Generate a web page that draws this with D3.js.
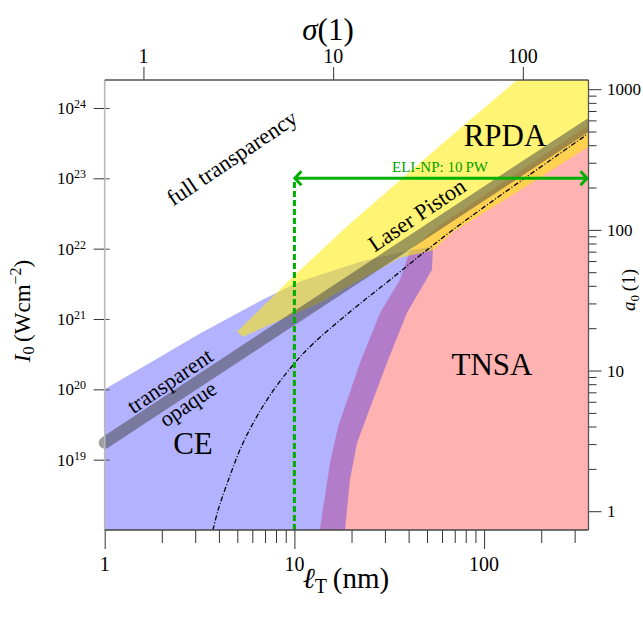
<!DOCTYPE html>
<html>
<head>
<meta charset="utf-8">
<script src="https://cdn.jsdelivr.net/npm/d3@7"></script>
<style>
  body { margin: 0; background: #fff; }
  text { font-family: "Liberation Serif", "DejaVu Serif", serif; }
</style>
</head>
<body>
<script>
// region outlines: [target thickness nm, intensity W/cm^2]
const ceRegion = [
  [1, 1.0e20], [3.18, 6.2e20], [6.83, 1.9e21], [10.7, 3.4e21], [22.2, 6.5e21],
  [40.7, 9.5e21], [53.8, 1.07e22], [53.1, 5.0e21], [39.2, 1.23e21], [30.8, 2.4e20],
  [24.1, 4.1e19], [21.4, 1.74e19], [19.6, 5.1e18], [18.5, 1e18], [1, 1e18]
];
const tnsaRegion = [
  [13.6, 1e18], [15.4, 8.9e18], [17.0, 2.95e19], [22.2, 2.4e20], [28.3, 1.23e21],
  [36.0, 3.6e21], [40.7, 9.5e21], [58.6, 2.19e22], [355, 5.75e23], [355, 1e18]
];
const rpdaRegion = [
  [4.98, 6.6e20], [9.83, 4.0e21], [19.4, 2.2e22], [63.8, 3.55e23], [149, 2.5e24],
  [355, 2.5e24], [355, 2.8e23], [137, 5.5e22], [68.6, 1.74e22], [53.8, 9.5e21],
  [36.0, 7.4e21], [13.6, 1.7e21], [5.36, 5.6e20]
];
// transparent / opaque boundary
const transLine = [[1, 1.74e19], [355, 5.75e23]];
// dash-dot curve
const dashCurve = [
  [3.72, 1e18], [3.96, 1.92e18], [4.41, 4.5e18], [5.36, 1.73e19], [7.17, 7.1e19],
  [9.83, 2.22e20], [12.5, 4.42e20], [19.6, 1.26e21], [31.9, 3.6e21], [68.6, 1.86e22],
  [349, 4.2e23]
];
// ELI-NP 10 PW marker
const eliThickness = 10;
const eliIntensity = 1e23;

const xMajor = [1, 10, 100];
const xMinor = [2, 3, 4, 5, 6, 7, 8, 9, 20, 30, 40, 50, 60, 70, 80, 90, 200, 300];
const yMajor = [1e19, 1e20, 1e21, 1e22, 1e23, 1e24];
const yExponents = [19, 20, 21, 22, 23, 24];
const sigmaMajor = [1, 10, 100];
const a0Major = [1, 10, 100, 1000];
const a0Minor = [2, 3, 4, 5, 6, 7, 8, 9, 20, 30, 40, 50, 60, 70, 80, 90,
  200, 300, 400, 500, 600, 700, 800, 900];

const W = 643, H = 619;
const pLeft = 104.7, pRight = 588.5, pTop = 80, pBottom = 530;

const svg = d3.select('body').append('svg')
  .attr('width', W)
  .attr('height', H);

const x = d3.scaleLog().domain([1, 355]).range([pLeft, pRight]);
const y = d3.scaleLog().domain([1e18, 2.5e24]).range([pBottom, pTop]);
// sigma is proportional to thickness, a0^2 proportional to intensity
const xSigma = d3.scaleLog().domain([1 / 1.6, 355 / 1.6]).range([pLeft, pRight]);
const yA0 = d3.scaleLog()
  .domain([Math.sqrt(1e18 / 1.85e18), Math.sqrt(2.5e24 / 1.85e18)])
  .range([pBottom, pTop]);

svg.append('defs').append('clipPath').attr('id', 'plot')
  .append('rect')
  .attr('x', pLeft - 10).attr('y', pTop)
  .attr('width', pRight - pLeft + 10).attr('height', pBottom - pTop);

const line = d3.line().x(d => x(d[0])).y(d => y(d[1]));
const plot = svg.append('g').attr('clip-path', 'url(#plot)');

plot.append('path').attr('d', line(tnsaRegion) + 'Z')
  .attr('fill', 'rgb(255,0,0)').attr('fill-opacity', 0.3);
plot.append('path').attr('d', line(ceRegion) + 'Z')
  .attr('fill', 'rgb(0,0,255)').attr('fill-opacity', 0.3);
plot.append('path').attr('d', line(rpdaRegion) + 'Z')
  .attr('fill', 'rgb(255,235,0)').attr('fill-opacity', 0.55);

plot.append('path').attr('d', line(transLine))
  .attr('fill', 'none')
  .attr('stroke', '#404040').attr('stroke-opacity', 0.5)
  .attr('stroke-width', 12).attr('stroke-linecap', 'round');

plot.append('path')
  .attr('d', d3.line().curve(d3.curveCatmullRom.alpha(0.5))
    .x(d => x(d[0])).y(d => y(d[1]))(dashCurve))
  .attr('fill', 'none')
  .attr('stroke', '#000').attr('stroke-width', 1.3)
  .attr('stroke-dasharray', '5,2,1,2');

// ELI-NP marker
const green = '#00b000';
const ex = x(eliThickness), ey = y(eliIntensity), exr = x(355);
svg.append('line')
  .attr('x1', ex).attr('y1', pBottom).attr('x2', ex).attr('y2', ey)
  .attr('stroke', green).attr('stroke-width', 3).attr('stroke-dasharray', '6,3');
svg.append('line')
  .attr('x1', ex).attr('y1', ey).attr('x2', exr - 1).attr('y2', ey)
  .attr('stroke', green).attr('stroke-width', 3);
svg.append('path')
  .attr('d', `M${ex + 7},${ey - 7}L${ex + 0.5},${ey}L${ex + 7},${ey + 7}`)
  .attr('fill', 'none').attr('stroke', green).attr('stroke-width', 3);
svg.append('path')
  .attr('d', `M${exr - 8},${ey - 7}L${exr - 1.5},${ey}L${exr - 8},${ey + 7}`)
  .attr('fill', 'none').attr('stroke', green).attr('stroke-width', 3);
svg.append('text')
  .attr('x', 440).attr('y', 172)
  .attr('text-anchor', 'middle')
  .attr('font-size', 15).attr('fill', '#00a000')
  .text('ELI-NP: 10\u2009PW');

// region labels
function label(txt, cx, cy, size, angle) {
  svg.append('text')
    .attr('transform', `translate(${cx},${cy}) rotate(${angle})`)
    .attr('text-anchor', 'middle')
    .attr('dy', '0.33em')
    .attr('font-size', size)
    .text(txt);
}
label('full transparency', 232, 158, 22.5, -34);
label('Laser Piston', 417, 215, 22.5, -34);
label('transparent', 170, 381, 22, -34);
label('opaque', 188, 404, 22, -34);
label('RPDA', 505, 136, 31, 0);
label('TNSA', 492, 365, 31, 0);
label('CE', 193, 444, 31, 0);

// axes
const noDomain = g => g.select('.domain').remove();
svg.append('g').attr('transform', `translate(0,${pBottom})`).attr('color', '#333')
  .call(d3.axisBottom(x).tickValues(xMinor).tickSize(13).tickFormat(''))
  .call(noDomain);
svg.append('g').attr('transform', `translate(0,${pBottom})`).attr('color', '#333')
  .call(d3.axisBottom(x).tickValues(xMajor).tickSize(19).tickFormat(''))
  .call(noDomain);
svg.append('g').attr('transform', `translate(0,${pTop})`).attr('color', '#333')
  .call(d3.axisTop(xSigma).tickValues(sigmaMajor).tickSize(13).tickFormat(''))
  .call(noDomain);
svg.append('g').attr('transform', `translate(${pLeft},0)`).attr('color', '#333')
  .call(d3.axisLeft(y).tickValues(yMajor).tickSize(11).tickFormat(''))
  .call(noDomain);
svg.append('g').attr('transform', `translate(${pLeft},0)`).attr('color', '#555')
  .call(d3.axisRight(y).tickValues(yMajor).tickSize(5).tickFormat(''))
  .call(noDomain);
svg.append('g').attr('transform', `translate(${pRight},0)`).attr('color', '#333')
  .call(d3.axisRight(yA0).tickValues(a0Minor).tickSize(8).tickFormat(''))
  .call(noDomain);
svg.append('g').attr('transform', `translate(${pRight},0)`).attr('color', '#333')
  .call(d3.axisRight(yA0).tickValues(a0Major).tickSize(13).tickFormat(''))
  .call(noDomain);

// frame
svg.append('line').attr('x1', pLeft).attr('x2', pLeft).attr('y1', pTop).attr('y2', pBottom)
  .attr('stroke', '#b8b8b8').attr('stroke-width', 1.6);
svg.append('line').attr('x1', pLeft).attr('x2', pRight).attr('y1', pTop).attr('y2', pTop)
  .attr('stroke', '#555').attr('stroke-width', 1.3);
svg.append('line').attr('x1', pRight).attr('x2', pRight).attr('y1', pTop).attr('y2', pBottom)
  .attr('stroke', '#555').attr('stroke-width', 1.3);
svg.append('line').attr('x1', pLeft).attr('x2', pRight).attr('y1', pBottom).attr('y2', pBottom)
  .attr('stroke', '#444').attr('stroke-width', 1.3);

// tick labels
svg.selectAll('.xlab').data(xMajor).enter().append('text')
  .attr('x', d => x(d)).attr('y', 571)
  .attr('text-anchor', 'middle').attr('font-size', 20)
  .text(d => d);
svg.selectAll('.slab').data(sigmaMajor).enter().append('text')
  .attr('x', d => xSigma(d)).attr('y', 63)
  .attr('text-anchor', 'middle').attr('font-size', 20)
  .text(d => d);
svg.selectAll('.alab').data(a0Major).enter().append('text')
  .attr('x', 607).attr('y', d => yA0(d) + 6)
  .attr('font-size', 17)
  .text(d => d);
const ylab = svg.selectAll('.ylab').data(yMajor).enter().append('text')
  .attr('x', 86).attr('y', d => y(d) + 6)
  .attr('text-anchor', 'end').attr('font-size', 17);
ylab.append('tspan').text('10');
ylab.append('tspan').attr('font-size', 12).attr('dy', -6)
  .text((d, i) => yExponents[i]);

// axis titles
const sigmaTitle = svg.append('text')
  .attr('x', 328).attr('y', 40).attr('text-anchor', 'middle').attr('font-size', 31);
sigmaTitle.append('tspan').attr('font-style', 'italic').text('σ');
sigmaTitle.append('tspan').text('(1)');

const xTitle = svg.append('text')
  .attr('x', 346).attr('y', 588).attr('text-anchor', 'middle').attr('font-size', 29);
xTitle.append('tspan').attr('font-style', 'italic').text('ℓ');
xTitle.append('tspan').attr('font-size', 20).attr('dy', 5).text('T');
xTitle.append('tspan').attr('dy', -5).text('\u2009(nm)');

const yTitle = svg.append('text')
  .attr('transform', 'translate(30,311) rotate(-90)')
  .attr('text-anchor', 'middle').attr('font-size', 23);
yTitle.append('tspan').attr('font-style', 'italic').text('I');
yTitle.append('tspan').attr('font-size', 16).attr('dy', 4).text('0');
yTitle.append('tspan').attr('dy', -4).text('\u2009(Wcm');
yTitle.append('tspan').attr('font-size', 16).attr('dy', -9).text('−2');
yTitle.append('tspan').attr('dy', 9).text(')');

const aTitle = svg.append('text')
  .attr('transform', 'translate(635,290) rotate(-90)')
  .attr('text-anchor', 'middle').attr('font-size', 19);
aTitle.append('tspan').attr('font-style', 'italic').text('a');
aTitle.append('tspan').attr('font-size', 13).attr('dy', 4).text('0');
aTitle.append('tspan').attr('dy', -4).text('\u2009(1)');
</script>
</body>
</html>
